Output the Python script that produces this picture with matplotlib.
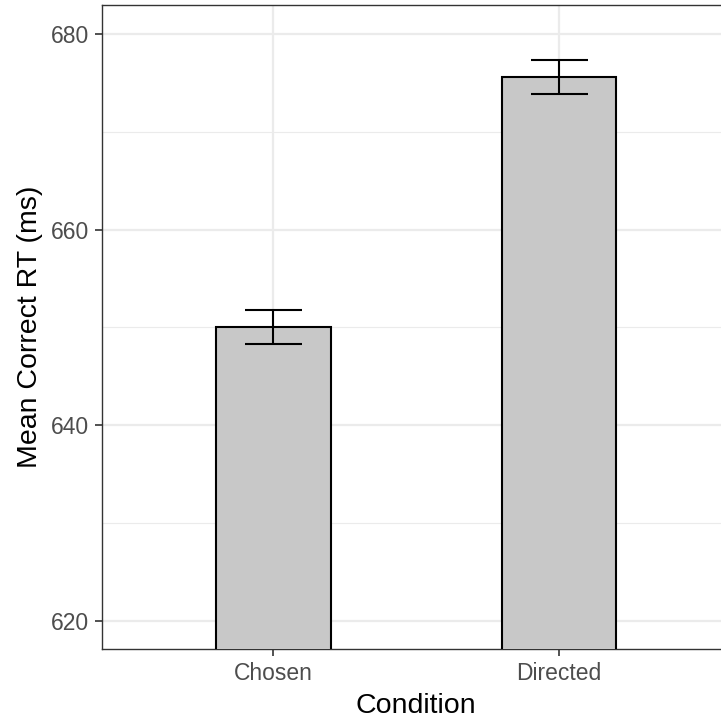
import matplotlib
matplotlib.use("Agg")
import matplotlib.pyplot as plt
from matplotlib.ticker import FixedLocator

categories = ["Chosen", "Directed"]
means = [650.07, 675.63]
lower = [648.33, 673.87]
upper = [651.75, 677.34]

plt.rcParams['font.family'] = ['Liberation Sans', 'DejaVu Sans']

fig = plt.figure(figsize=(7.21, 7.21), dpi=100)
ax = fig.add_axes([102/721, (721-649.3)/721, (730.4-102)/721, (649.3-5.3)/721])

x = [1, 2]
ax.bar(x, [m - 600 for m in means], bottom=600, width=0.4, color="#C8C8C8",
       edgecolor="black", linewidth=1.5, zorder=3)
yerr = [[m - l for m, l in zip(means, lower)], [u - m for m, u in zip(means, upper)]]
ax.errorbar(x, means, yerr=yerr, fmt="none", ecolor="black", elinewidth=1.5,
            capsize=28.5*0.72, capthick=1.5, zorder=4)

ax.set_xlim(0.4, 2.6)
ax.set_ylim(617.1, 682.93)
ax.set_xticks(x)
ax.set_xticklabels(categories)
ax.yaxis.set_major_locator(FixedLocator([620, 640, 660, 680]))
ax.yaxis.set_minor_locator(FixedLocator([630, 650, 670]))

ax.grid(which="major", color="#EBEBEB", linewidth=1.6, zorder=0)
ax.grid(which="minor", axis="y", color="#EBEBEB", linewidth=0.8, zorder=0)
ax.set_axisbelow(True)

for s in ax.spines.values():
    s.set_color("#333333")
    s.set_linewidth(1.0)

ax.tick_params(which="major", length=5, width=1.2, color="#333333",
               labelsize=16.5, labelcolor="#4D4D4D", pad=4)
ax.tick_params(which="minor", length=0)

ax.set_xlabel("Condition", fontsize=20.5, color="black", labelpad=6)
ax.set_ylabel("Mean Correct RT (ms)", fontsize=20.5, color="black", labelpad=6)

fig.savefig("out.png", dpi=100)
